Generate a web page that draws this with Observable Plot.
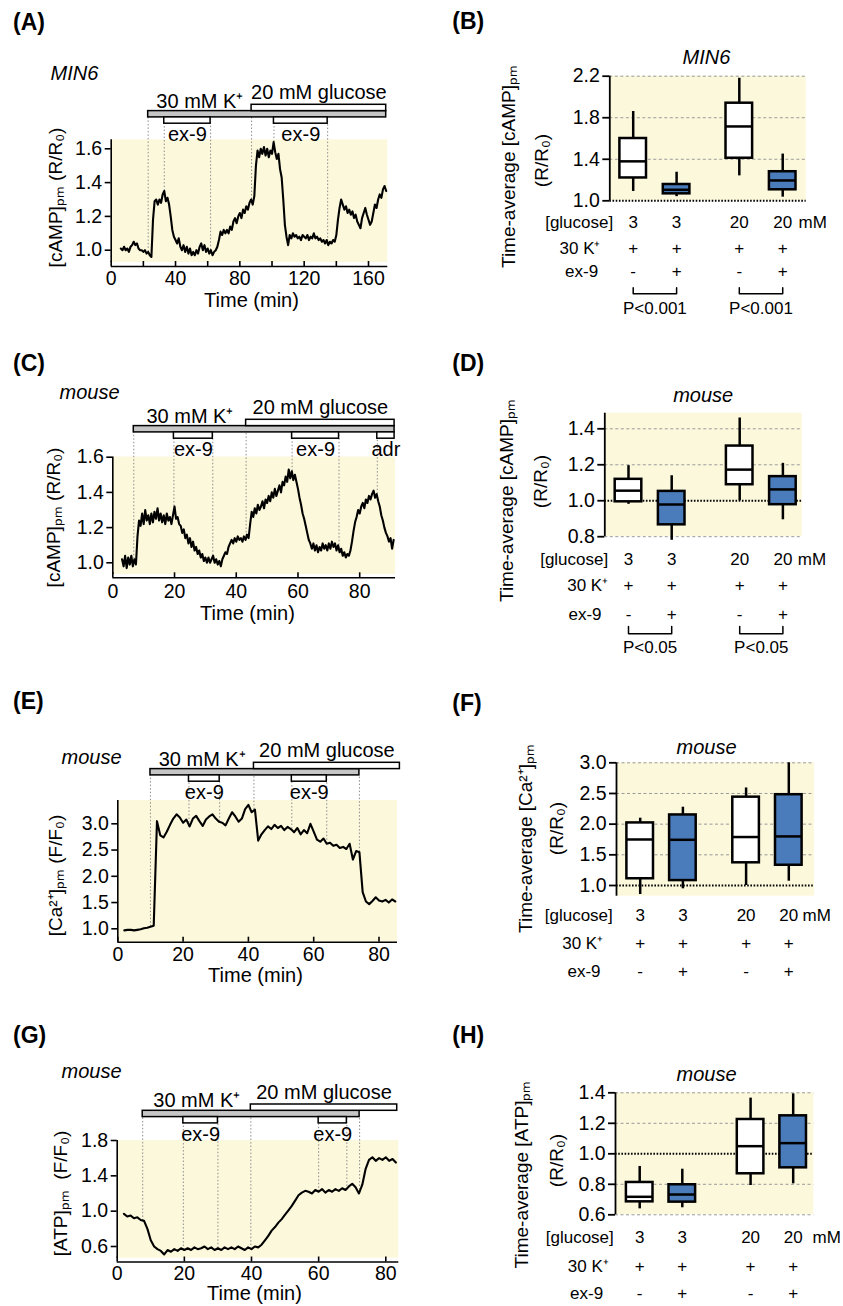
<!DOCTYPE html>
<html><head><meta charset="utf-8">
<script src="https://cdn.jsdelivr.net/npm/d3@7"></script>
<script src="https://cdn.jsdelivr.net/npm/@observablehq/plot@0.6"></script>
<style>
body{margin:0;background:#fff}
#fig{position:relative;width:843px;height:1306px;overflow:hidden;background:#fff;font-family:'Liberation Sans',Arial,sans-serif;color:#000}
#fig > div.p{position:absolute}
.lbl{position:absolute;font-weight:bold;font-size:23px;line-height:23px;white-space:nowrap}
svg{overflow:visible}
</style></head><body><div id="fig"></div><script>
// ---------------- DATA ----------------
// (A) MIN6 cAMP trace, 1-min samples from t = 6 min
const campMIN6 = [
1.01,1.00,1.02,1.00,1.01,0.99,1.02,1.03,1.05,1.03,
1.04,1.01,1.00,1.00,0.99,1.00,0.98,0.99,0.97,0.96,
1.18,1.29,1.30,1.27,1.30,1.28,1.33,1.35,1.29,1.31,
1.27,1.20,1.12,1.08,1.06,1.04,1.07,1.02,1.00,1.03,
0.99,1.02,0.98,1.01,0.97,0.99,0.97,1.00,0.98,1.02,
1.04,1.00,1.03,0.99,1.01,0.98,1.00,0.97,0.99,1.00,
1.02,1.06,1.11,1.09,1.12,1.10,1.12,1.10,1.14,1.12,
1.17,1.19,1.16,1.20,1.22,1.19,1.24,1.22,1.26,1.24,
1.28,1.30,1.27,1.32,1.50,1.59,1.55,1.60,1.57,1.61,
1.56,1.60,1.55,1.59,1.57,1.64,1.58,1.54,1.57,1.48,
1.43,1.30,1.15,1.08,1.03,1.09,1.07,1.10,1.08,1.09,
1.07,1.08,1.06,1.09,1.08,1.07,1.09,1.06,1.08,1.07,
1.10,1.07,1.08,1.06,1.07,1.05,1.06,1.04,1.06,1.03,
1.05,1.04,1.06,1.05,1.09,1.18,1.25,1.30,1.27,1.24,
1.26,1.22,1.24,1.21,1.23,1.19,1.21,1.17,1.15,1.13,
1.19,1.22,1.25,1.21,1.18,1.15,1.17,1.22,1.27,1.25,
1.30,1.33,1.31,1.36,1.38,1.35];
const kA = [23, 171], glucA = [87.3, 171], ex9A = [[33, 61.8], [101.2, 134.6]];

// (C) mouse cAMP trace, 0.5-min samples from t = 3 min
const campMouse = [
1.02,0.98,1.04,0.97,1.03,0.99,1.04,0.98,1.02,0.99,
1.15,1.24,1.21,1.28,1.22,1.30,1.24,1.27,1.22,1.28,
1.23,1.29,1.25,1.31,1.24,1.28,1.23,1.27,1.22,1.28,
1.24,1.26,1.22,1.27,1.32,1.25,1.26,1.22,1.21,1.17,
1.19,1.14,1.16,1.11,1.14,1.09,1.12,1.07,1.09,1.05,
1.07,1.03,1.05,1.01,1.03,1.00,1.03,1.00,1.02,1.04,
1.00,1.02,0.99,1.01,0.98,1.02,1.04,1.06,1.05,1.09,
1.11,1.13,1.11,1.14,1.12,1.15,1.13,1.14,1.12,1.15,
1.13,1.16,1.14,1.22,1.29,1.26,1.31,1.28,1.33,1.30,
1.32,1.35,1.31,1.36,1.34,1.38,1.35,1.40,1.37,1.42,
1.38,1.41,1.44,1.40,1.46,1.44,1.49,1.46,1.53,1.48,
1.52,1.47,1.50,1.46,1.42,1.37,1.33,1.28,1.25,1.21,
1.17,1.13,1.11,1.08,1.11,1.07,1.10,1.06,1.09,1.07,
1.11,1.08,1.10,1.07,1.11,1.08,1.12,1.09,1.11,1.07,
1.10,1.06,1.08,1.04,1.06,1.03,1.05,1.04,1.07,1.12,
1.18,1.23,1.26,1.30,1.28,1.32,1.34,1.31,1.36,1.34,
1.38,1.36,1.39,1.41,1.37,1.39,1.35,1.32,1.27,1.24,
1.20,1.17,1.15,1.12,1.14,1.08,1.13];
const kC = [6.8, 91.3], glucC = [43.2, 91.3], ex9C = [[19.8, 32.4], [58.1, 73.3]], adrC = [85.7, 91.3];

// (E) mouse Ca2+ trace, 1-min samples from t = 2 min
const caMouse = [
0.97,0.98,0.98,0.97,0.98,0.99,1.01,1.02,1.04,1.06,
3.05,2.78,2.74,2.85,2.98,3.10,3.18,3.12,3.02,3.08,
2.95,3.10,3.15,3.05,2.96,3.08,3.14,3.18,3.10,3.04,
3.02,2.97,3.10,3.22,3.14,3.04,3.10,3.28,3.36,3.22,
3.27,2.68,2.80,2.88,2.95,2.90,2.98,2.92,2.96,2.88,
2.94,2.90,2.84,2.92,2.80,2.88,2.82,3.00,2.85,2.70,
2.66,2.72,2.62,2.64,2.58,2.60,2.54,2.56,2.52,2.62,
2.32,2.48,2.46,1.70,1.52,1.47,1.53,1.60,1.54,1.52,
1.55,1.50,1.56,1.52];
const kE = [10, 74], glucE = [41.7, 86.4], ex9E = [[21.8, 31.2], [53.3, 64]];

// (G) mouse ATP trace, 1-min samples from t = 2 min
const atpMouse = [
0.97,0.94,0.95,0.92,0.93,0.90,0.89,0.80,0.67,0.60,
0.57,0.55,0.51,0.56,0.54,0.57,0.55,0.58,0.56,0.58,
0.56,0.59,0.57,0.58,0.60,0.57,0.59,0.56,0.58,0.56,
0.59,0.57,0.59,0.57,0.60,0.58,0.56,0.59,0.57,0.60,
0.59,0.62,0.67,0.72,0.78,0.82,0.87,0.91,0.96,1.01,
1.06,1.12,1.18,1.21,1.23,1.22,1.20,1.24,1.22,1.25,
1.21,1.24,1.22,1.25,1.23,1.26,1.24,1.28,1.31,1.27,
1.20,1.30,1.48,1.58,1.61,1.57,1.60,1.58,1.61,1.57,
1.59,1.55];
const kG = [7.6, 72.2], glucG = [39.8, 83.4], ex9G = [[19.7, 30], [60, 68.4]];

// Box plots: [low whisker, Q1, median, Q3, high whisker]
const glucoseRow = ["3", "3", "20", "20"];
const kRow = ["+", "+", "+", "+"];
const ex9Row = ["-", "+", "-", "+"];
const rowNames = ["[glucose]", "30 K\u207A", "ex-9"];
const statsB = [[1.09,1.22,1.38,1.60,1.86],[1.04,1.067,1.106,1.157,1.275],[1.24,1.41,1.716,1.94,2.18],[1.035,1.106,1.196,1.28,1.45]];
const statsD = [[0.98,0.994,1.056,1.119,1.195],[0.78,0.866,0.979,1.052,1.139],[1.0,1.089,1.173,1.304,1.46],[0.894,0.978,1.063,1.134,1.208]];
const statsF = [[0.853,1.11,1.75,2.02,2.097],[0.946,1.08,1.745,2.15,2.276],[1.0,1.37,1.79,2.44,2.59],[1.07,1.33,1.80,2.48,3.0]];
const statsH = [[0.639,0.685,0.718,0.812,0.917],[0.646,0.683,0.733,0.797,0.899],[0.792,0.869,1.05,1.225,1.365],[0.803,0.908,1.07,1.249,1.393]];
const pairs = [[0, 1], [2, 3]];
const pB = ["P<0.001", "P<0.001"];
const pD = ["P<0.05", "P<0.05"];

// Tick values
const yTicksA = [1.0, 1.2, 1.4, 1.6], xTicksA = [0,20,40,60,80,100,120,140,160], xLabA = [0,40,80,120,160];
const yTicksC = [1.0, 1.2, 1.4, 1.6], xTicksC = [0,20,40,60,80];
const yTicksE = [1.0, 1.5, 2.0, 2.5, 3.0], xTicksE = [0,20,40,60,80];
const yTicksG = [0.6, 1.0, 1.4, 1.8], xTicksG = [0,20,40,60,80];
const yTicksB = [1.0, 1.4, 1.8, 2.2], yTicksD = [0.8, 1.0, 1.2, 1.4], yTicksF = [1.0, 1.5, 2.0, 2.5, 3.0], yTicksH = [0.6, 0.8, 1.0, 1.2, 1.4];

// ---------------- STYLE / LAYOUT ----------------
const FONT = "'Liberation Sans', Arial, Helvetica, sans-serif";
const BG = "#fcf8dc", BLUE = "#4a7bbb", GREY = "#c6c6c6";
const fig = document.getElementById("fig");
function place(el, left, top) { const d = document.createElement("div"); d.className = "p"; d.style.left = left + "px"; d.style.top = top + "px"; d.appendChild(el); fig.appendChild(d); }
function linear(v0, p0, v1, p1) { const k = (p1 - p0) / (v1 - v0); return p => v0 + (p - p0) / k; }
const baseStyle = {fontFamily: FONT, fontSize: "19px", color: "black", background: "transparent", overflow: "visible"};

function tracePanel(c) {
  const yAt = linear(...c.calY);
  const xAt = linear(...c.calX);
  const data = c.values.map((v, i) => ({t: c.t0 + i * c.dt, v}));
  const tEnd = data[data.length - 1].t;
  const xMax = xAt(c.bgRight);
  const valueAt = t => d3.least(data, d => Math.abs(d.t - t)).v;
  const T = c.barTop, bh = 6.3;
  const exBars = c.ex9.map(([s, e]) => ({start: s, end: e, label: "ex-9"}));
  if (c.adr) exBars.push({start: c.adr[0], end: c.adr[1], label: "adr"});
  const allBars = [{start: c.k[0], end: c.k[1]}, {start: c.gluc[0], end: c.gluc[1]}, ...exBars];
  const events = allBars.flatMap(b => b.end < tEnd - 3 ? [b.start, b.end] : [b.start]);
  const barTexts = [
    {x: (c.k[0] + c.gluc[0]) / 2, py: T + bh - 10, text: "30 mM K\u207A"},
    {x: (c.gluc[0] + c.gluc[1]) / 2, py: T - 12, text: "20 mM glucose"},
    ...exBars.map(b => ({x: (b.start + b.end) / 2, py: T + 3 * bh + 11, text: b.label}))
  ];
  const plot = Plot.plot({
    width: 420, height: c.h,
    marginLeft: c.calX[1], marginRight: 420 - c.bgRight,
    marginTop: c.bgTop - c.top, marginBottom: c.top + c.h - c.axisY,
    x: {type: "linear", domain: [0, xMax]},
    y: {type: "linear", domain: [yAt(c.axisY), yAt(c.bgTop)]},
    style: baseStyle,
    marks: [
      Plot.rect([0], {x1: () => 0, x2: () => xMax, y1: () => yAt(c.bgBot), y2: () => yAt(c.bgTop), fill: BG}),
      Plot.ruleX(events, {x: d => d, y1: d => valueAt(d), y2: () => yAt(T + 2 * bh), stroke: "#8c8c8c", strokeWidth: 1, strokeDasharray: "1.5,2"}),
      Plot.line(data, {x: "t", y: "v", stroke: "black", strokeWidth: 2.1}),
      Plot.ruleX([0], {y1: () => yAt(c.bgBot), y2: () => yAt(c.bgTop), strokeWidth: 1.6}),
      Plot.axisY(c.yTicks, {tickSize: 6, tickPadding: 3, tickFormat: d3.format(".1f"), label: null, fontSize: 19.5, strokeWidth: 1.6}),
      Plot.ruleY([yAt(c.axisY)], {x1: () => 0, x2: () => xMax, strokeWidth: 1.6}),
      Plot.ruleX(c.xTicks, {x: d => d, y1: () => yAt(c.axisY), y2: () => yAt(c.axisY - 5), strokeWidth: 1.6}),
      Plot.axisX(c.xLabels, {tickSize: 0, tickPadding: c.tickPad, label: null, fontSize: 19.5}),
      Plot.rect([{start: c.k[0], end: c.k[1]}], {x1: "start", x2: "end", y1: () => yAt(T + 2 * bh), y2: () => yAt(T + bh), fill: GREY, stroke: "black", strokeWidth: 1.5}),
      Plot.rect([{start: c.gluc[0], end: c.gluc[1]}], {x1: "start", x2: "end", y1: () => yAt(T + bh), y2: () => yAt(T), fill: "white", stroke: "black", strokeWidth: 1.5}),
      Plot.rect(exBars, {x1: "start", x2: "end", y1: () => yAt(T + 3 * bh), y2: () => yAt(T + 2 * bh), fill: "white", stroke: "black", strokeWidth: 1.5}),
      Plot.text(barTexts, {x: "x", y: d => yAt(d.py), text: "text", fontSize: 20}),
      Plot.text([c.species], {x: () => xAt(c.speciesAt[0]), y: () => yAt(c.speciesAt[1]), text: d => d, textAnchor: "start", fontStyle: "italic", fontSize: 20}),
      Plot.text([c.ylabel], {x: () => xAt(c.ylabelAt[0]), y: () => yAt(c.ylabelAt[1]), text: d => d, rotate: -90, fontSize: 19}),
      Plot.text(["Time (min)"], {x: () => xAt(c.xlabelAt[0]), y: () => yAt(c.xlabelAt[1]), text: d => d, fontSize: 20})
    ]
  });
  place(plot, 0, c.top);
}

function boxPanel(c) {
  const yAt = linear(...c.calY);
  const xAt = px => (px - c.c0) / c.slotPx;
  const groups = [...new Set(glucoseRow)];
  const boxes = c.stats.map((s, i) => ({slot: i + groups.indexOf(glucoseRow[i]) * c.gap, lo: s[0], q1: s[1], med: s[2], q3: s[3], hi: s[4], glucose: glucoseRow[i], k: kRow[i], ex9: ex9Row[i]}));
  const half = 13.3 / c.slotPx;
  const xd = [xAt(c.axisX), xAt(c.bgRight)];
  const marks = [
    Plot.rect([0], {x1: () => xd[0], x2: () => xd[1], y1: () => yAt(c.bgBot), y2: () => yAt(c.bgTop), fill: BG}),
    Plot.ruleY(c.yTicks.filter(t => t !== 1), {x1: () => xd[0], x2: () => xd[1], stroke: "#9a9a9a", strokeWidth: 1, strokeDasharray: "3,2.5"}),
    Plot.ruleY([1], {x1: () => xd[0], x2: () => xd[1], stroke: "black", strokeWidth: 2, strokeDasharray: "1.6,1.6"}),
    Plot.ruleX(boxes, {x: "slot", y1: "lo", y2: "hi", stroke: "black", strokeWidth: 2.5}),
    Plot.rect(boxes, {x1: d => d.slot - half, x2: d => d.slot + half, y1: "q1", y2: "q3", fill: d => d.ex9 === "+" ? BLUE : "white", stroke: "black", strokeWidth: 2.5}),
    Plot.ruleY(boxes, {y: "med", x1: d => d.slot - half, x2: d => d.slot + half, stroke: "black", strokeWidth: 2.5}),
    Plot.ruleX([xd[0]], {y1: () => yAt(c.bgBot), y2: () => yAt(c.bgTop), strokeWidth: 1.8}),
    Plot.axisY(c.yTicks, {tickSize: 7, tickPadding: 3, tickFormat: d3.format(".1f"), label: null, fontSize: 19.5, strokeWidth: 1.8}),
    Plot.text([c.species], {x: () => xAt(c.speciesAt[0]), y: () => yAt(c.speciesAt[1]), text: d => d, fontStyle: "italic", fontSize: 20}),
    Plot.text(rowNames, {x: (d, i) => xAt(c.rowRight[i]), y: (d, i) => yAt(c.rows[i]), text: d => d, textAnchor: "end", fontSize: 17}),
    Plot.text(boxes, {x: "slot", y: () => yAt(c.rows[0]), text: "glucose", fontSize: 17}),
    Plot.text(boxes, {x: "slot", y: () => yAt(c.rows[1]), text: "k", fontSize: 17}),
    Plot.text(boxes, {x: "slot", y: () => yAt(c.rows[2]), text: "ex9", fontSize: 17}),
    Plot.text(["mM"], {x: () => xAt(c.mMx), y: () => yAt(c.rows[0]), text: d => d, textAnchor: "start", fontSize: 17}),
    Plot.text([c.ylab1], {x: () => xAt(c.ylab1At[0]), y: () => yAt(c.ylab1At[1]), text: d => d, rotate: -90, fontSize: 19}),
    Plot.text(["(R/R\u2080)"], {x: () => xAt(c.ylab2At[0]), y: () => yAt(c.ylab2At[1]), text: d => d, rotate: -90, fontSize: 19})
  ];
  if (c.pvals) {
    const br = pairs.flatMap(([a, b], j) => [
      {x: boxes[a].slot, y: yAt(c.bracket[0]), j}, {x: boxes[a].slot, y: yAt(c.bracket[1]), j},
      {x: boxes[b].slot, y: yAt(c.bracket[1]), j}, {x: boxes[b].slot, y: yAt(c.bracket[0]), j}]);
    marks.push(Plot.line(br, {x: "x", y: "y", z: "j", stroke: "black", strokeWidth: 1.5}));
    marks.push(Plot.text(pairs, {x: ([a, b]) => (boxes[a].slot + boxes[b].slot) / 2, y: () => yAt(c.pY), text: (d, i) => c.pvals[i], fontSize: 17}));
  }
  const plot = Plot.plot({
    width: 423, height: c.h,
    marginLeft: c.axisX - 420, marginRight: 843 - c.bgRight,
    marginTop: c.bgTop - c.top, marginBottom: c.top + c.h - c.bgBot,
    x: {type: "linear", domain: xd, axis: null},
    y: {type: "linear", domain: [yAt(c.bgBot), yAt(c.bgTop)]},
    style: baseStyle,
    marks
  });
  place(plot, 420, c.top);
}

tracePanel({top: 0, h: 320, calY: [1.0, 249.7, 1.6, 148.3], calX: [0, 110.7, 160, 368], bgTop: 139.3, bgBot: 262, axisY: 266, bgRight: 387.3, barTop: 104.3,
  values: campMIN6, t0: 6, dt: 1, k: kA, gluc: glucA, ex9: ex9A, adr: null, yTicks: yTicksA, xTicks: xTicksA, xLabels: xLabA, tickPad: 5,
  species: "MIN6", speciesAt: [50, 73], ylabel: "[cAMP]\u209A\u2098 (R/R\u2080)", ylabelAt: [55, 197], xlabelAt: [251, 300]});
tracePanel({top: 320, h: 320, calY: [1.0, 562.3, 1.6, 456.7], calX: [0, 112.3, 80, 359.2], bgTop: 456.5, bgBot: 574, axisY: 577.3, bgRight: 395, barTop: 419.3,
  values: campMouse, t0: 3, dt: 0.5, k: kC, gluc: glucC, ex9: ex9C, adr: adrC, yTicks: yTicksC, xTicks: xTicksC, xLabels: xTicksC, tickPad: 6.5,
  species: "mouse", speciesAt: [59, 391.7], ylabel: "[cAMP]\u209A\u2098 (R/R\u2080)", ylabelAt: [53, 517], xlabelAt: [247, 613]});
tracePanel({top: 640, h: 330, calY: [1.0, 928.3, 3.0, 823.3], calX: [0, 117.3, 80, 378.5], bgTop: 800, bgBot: 941.7, axisY: 941.7, bgRight: 397, barTop: 762.3,
  values: caMouse, t0: 2, dt: 1, k: kE, gluc: glucE, ex9: ex9E, adr: null, yTicks: yTicksE, xTicks: xTicksE, xLabels: xTicksE, tickPad: 5,
  species: "mouse", speciesAt: [61, 757.3], ylabel: "[Ca\u00B2\u207A]\u209A\u2098 (F/F\u2080)", ylabelAt: [55, 875], xlabelAt: [255, 975]});
tracePanel({top: 970, h: 336, calY: [0.6, 1246, 1.8, 1140], calX: [0, 116.7, 80, 385.3], bgTop: 1140, bgBot: 1257.7, axisY: 1261.5, bgRight: 398.3, barTop: 1104,
  values: atpMouse, t0: 2, dt: 1, k: kG, gluc: glucG, ex9: ex9G, adr: null, yTicks: yTicksG, xTicks: xTicksG, xLabels: xTicksG, tickPad: 4,
  species: "mouse", speciesAt: [61, 1071], ylabel: "[ATP]\u209A\u2098  (F/F\u2080)", ylabelAt: [60, 1193], xlabelAt: [254, 1293.5]});

boxPanel({top: 0, h: 320, calY: [1.0, 200.3, 2.2, 75.7], bgTop: 75.7, bgBot: 200.3, axisX: 609.3, bgRight: 805.7, c0: 632.7, slotPx: 43.4, gap: 0.445,
  stats: statsB, yTicks: yTicksB, species: "MIN6", speciesAt: [706, 56.7], rows: [221.7, 248.3, 270.7], rowRight: [612.7, 600, 597.7], mMx: 798,
  bracket: [287.3, 293.3], pY: 308.3, pvals: pB, ylab1: "Time-average [cAMP]\u209A\u2098", ylab1At: [508.3, 166], ylab2At: [541.7, 160]});
boxPanel({top: 320, h: 320, calY: [0.8, 536.2, 1.4, 428.3], bgTop: 412.7, bgBot: 536.2, axisX: 604.3, bgRight: 801.7, c0: 628, slotPx: 43.2, gap: 0.574,
  stats: statsD, yTicks: yTicksD, species: "mouse", speciesAt: [702.7, 395], rows: [559, 585, 614.3], rowRight: [607.7, 607.7, 601], mMx: 797.3,
  bracket: [626, 633.3], pY: 646.7, pvals: pD, ylab1: "Time-average [cAMP]\u209A\u2098", ylab1At: [506, 500], ylab2At: [540.7, 481]});
boxPanel({top: 640, h: 330, calY: [1.0, 885, 3.0, 762.3], bgTop: 762.3, bgBot: 895.7, axisX: 616, bgRight: 814, c0: 639.7, slotPx: 42.7, gap: 0.48,
  stats: statsF, yTicks: yTicksF, species: "mouse", speciesAt: [706, 746.7], rows: [915, 943.3, 971], rowRight: [612.3, 602.7, 600], mMx: 802,
  pvals: null, ylab1: "Time-average [Ca\u00B2\u207A]\u209A\u2098", ylab1At: [525, 838], ylab2At: [556.7, 828]});
boxPanel({top: 970, h: 336, calY: [0.6, 1214.3, 1.4, 1092.3], bgTop: 1092.3, bgBot: 1214.3, axisX: 615, bgRight: 813.3, c0: 639.2, slotPx: 42.6, gap: 0.603,
  stats: statsH, yTicks: yTicksH, species: "mouse", speciesAt: [706, 1074.3], rows: [1237.3, 1265.7, 1293.3], rowRight: [613.3, 608.3, 602.7], mMx: 812,
  pvals: null, ylab1: "Time-average [ATP]\u209A\u2098", ylab1At: [521.7, 1174], ylab2At: [556.7, 1160]});

// Panel letters
const letters = [["(A)", 13, 10.5], ["(B)", 452.3, 10], ["(C)", 13, 351.5], ["(D)", 452.3, 352], ["(E)", 13, 690], ["(F)", 452.3, 692], ["(G)", 13, 1023.5], ["(H)", 452.3, 1023.5]];
for (const [t, x, y] of letters) { const d = document.createElement("div"); d.className = "lbl"; d.style.left = x + "px"; d.style.top = y + "px"; d.textContent = t; fig.appendChild(d); }
</script></body></html>
